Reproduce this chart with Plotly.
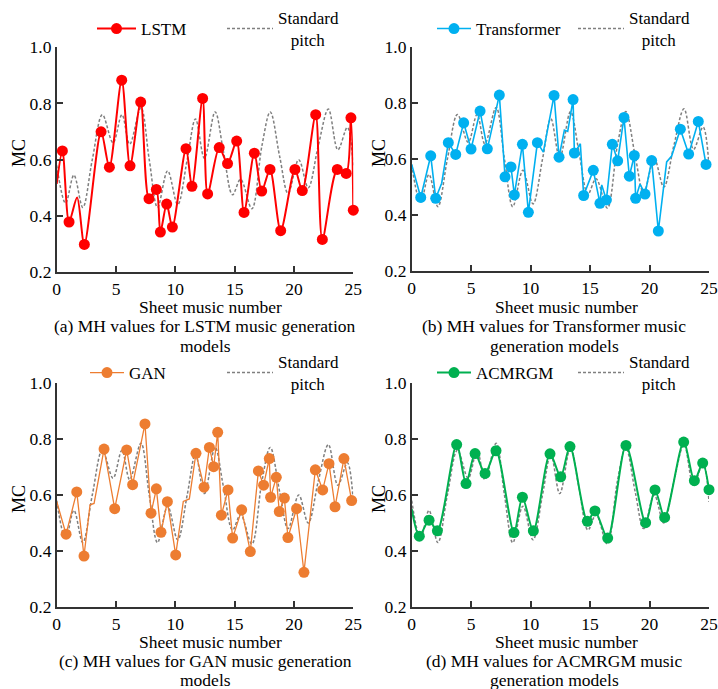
import plotly.graph_objects as go

W, H = 718, 689
FONT = "Liberation Serif, Times New Roman, serif"

# ---------------- data ----------------
x_ticks = [0, 5, 10, 15, 20, 25]
y_ticks = [0.2, 0.4, 0.6, 0.8, 1.0]

std_x = [0, 0.75, 1.45, 2.2, 3.0, 3.85, 4.75, 5.5, 6.15, 7.1, 7.8, 8.5, 9.35, 10.2, 11.0, 11.7,
         12.45, 13.35, 14.05, 14.82, 15.5, 16.45, 17.3, 18.0, 18.8, 19.5, 20.4, 21.2, 22.05,
         22.9, 23.7, 24.5, 25]
std_y = [0.58, 0.445, 0.545, 0.43, 0.60, 0.76, 0.66, 0.76, 0.655, 0.785, 0.60, 0.43, 0.56, 0.44,
         0.60, 0.745, 0.605, 0.77, 0.63, 0.475, 0.53, 0.425, 0.65, 0.77, 0.61, 0.48, 0.60, 0.50,
         0.65, 0.78, 0.635, 0.715, 0.575]

lstm_x = [0.48, 1.04, 2.33, 3.74, 4.44, 5.48, 6.18, 7.08, 7.78, 8.40, 8.74, 9.27, 9.75, 10.9,
          11.4, 12.3, 12.72, 13.7, 14.4, 15.17, 15.79, 16.66, 17.28, 17.98, 18.88, 20.08, 20.7,
          21.83, 22.39, 23.65, 24.4, 24.8, 25.0]
lstm_y = [0.631, 0.378, 0.298, 0.699, 0.573, 0.883, 0.578, 0.805, 0.461, 0.494, 0.342, 0.442,
          0.360, 0.639, 0.505, 0.818, 0.478, 0.643, 0.586, 0.666, 0.412, 0.623, 0.488, 0.565,
          0.347, 0.565, 0.490, 0.760, 0.316, 0.565, 0.551, 0.749, 0.420]
lstm_knot_x = [0, 1.72]
lstm_knot_y = [0.514, 0.465]

tr_x = [0.76, 1.60, 2.02, 3.08, 3.70, 4.37, 4.99, 5.75, 6.36, 7.37, 7.85, 8.35, 8.63, 9.31, 9.81,
        10.57, 11.97, 12.39, 13.57, 13.68, 14.46, 15.27, 15.83, 16.37, 16.87, 17.32, 17.85, 18.3,
        18.72, 18.83, 19.62, 20.18, 20.74, 22.59, 23.29, 24.1, 24.75]
tr_y = [0.463, 0.612, 0.460, 0.659, 0.617, 0.730, 0.636, 0.772, 0.637, 0.829, 0.537, 0.572,
        0.472, 0.653, 0.410, 0.659, 0.828, 0.607, 0.813, 0.622, 0.470, 0.560, 0.442, 0.454,
        0.653, 0.594, 0.749, 0.539, 0.613, 0.460, 0.475, 0.595, 0.343, 0.707, 0.618, 0.735, 0.581]
tr_knot_x = [0, 2.52, 11.07, 12.84, 13.12, 14.18, 15.98, 19.2, 21.44, 21.86]
tr_knot_y = [0.581, 0.514, 0.625, 0.704, 0.699, 0.655, 0.508, 0.511, 0.590, 0.611]

gan_x = [0.79, 1.69, 2.30, 3.99, 4.89, 5.90, 6.40, 7.44, 7.95, 8.40, 8.79, 9.33, 10.03, 11.74,
         12.42, 12.87, 13.23, 13.57, 13.88, 14.44, 14.83, 15.59, 16.32, 17.0, 17.44, 17.92, 18.03,
         18.51, 18.76, 19.19, 19.49, 20.22, 20.84, 21.8, 22.42, 22.95, 23.46, 24.21, 24.86]
gan_y = [0.460, 0.611, 0.382, 0.764, 0.551, 0.761, 0.637, 0.854, 0.535, 0.622, 0.467, 0.576,
         0.386, 0.749, 0.628, 0.770, 0.701, 0.824, 0.528, 0.618, 0.446, 0.547, 0.398, 0.686,
         0.635, 0.730, 0.592, 0.663, 0.541, 0.589, 0.448, 0.551, 0.324, 0.690, 0.618, 0.712,
         0.558, 0.730, 0.580]
gan_knot_x = [0, 2.81, 3.15, 10.67, 11.18]
gan_knot_y = [0.577, 0.565, 0.570, 0.577, 0.586]

ac_x = [0.64, 1.46, 2.16, 3.78, 4.57, 5.33, 6.17, 7.09, 8.6, 9.31, 10.23, 11.63, 12.53, 13.31,
        14.77, 15.41, 16.48, 18.02, 19.67, 20.46, 21.27, 22.87, 23.77, 24.47, 25.0]
ac_y = [0.453, 0.510, 0.472, 0.780, 0.641, 0.748, 0.677, 0.758, 0.466, 0.592, 0.472, 0.747,
        0.665, 0.773, 0.506, 0.543, 0.446, 0.777, 0.501, 0.618, 0.520, 0.789, 0.651, 0.714, 0.619]
ac_knot_x = [0]
ac_knot_y = [0.55]

models = ["LSTM", "Transformer", "GAN", "ACMRGM"]
captions = [["(a) MH values for LSTM music generation", "models"],
            ["(b) MH values for Transformer music", "generation models"],
            ["(c) MH values for GAN music generation", "models"],
            ["(d) MH values for ACMRGM music", "generation models"]]
x_title = "Sheet music number"
y_title = "MC"
std_name = "Standard<br>\u00a0\u00a0\u00a0pitch"

# ---------------- styling / layout ----------------
colors = ["#FF0000", "#00B0F0", "#ED7D31", "#00B050"]
line_shape = ["spline", "linear", "linear", "spline"]
line_w = [2.0, 1.6, 1.3, 2.0]
std_color = "#7F7F7F"


def fx(px):
    return px / W


def fy(py):
    return 1 - py / H


# panel pixel boxes: (left, right, top, bottom)
boxes = [(56.7, 353.3, 47.3, 272.0), (411.7, 709.0, 47.3, 271.0),
         (56.7, 353.3, 383.0, 607.0), (411.7, 709.0, 383.0, 607.0)]
# text rows (pixel y): x-title, caption line 1, caption line 2
text_rows = [(307, 326, 346), (642, 661, 680)]
leg_rows = [29, 373]
# legend placement: (model legend left, model itemwidth, std legend left)
leg_pos = [(92, 39, 222), (432, 34, 573), (85, 34, 222), (432, 34, 573)]

series = [(lstm_x, lstm_y, lstm_knot_x, lstm_knot_y),
          (tr_x, tr_y, tr_knot_x, tr_knot_y),
          (gan_x, gan_y, gan_knot_x, gan_knot_y),
          (ac_x, ac_y, ac_knot_x, ac_knot_y)]

fig = go.Figure()
layout = dict(width=W, height=H, margin=dict(l=0, r=0, t=0, b=0, pad=0, autoexpand=False),
              paper_bgcolor="white", plot_bgcolor="white",
              font=dict(family=FONT, size=17, color="black"),
              annotations=[])

for i in range(4):
    l, r, t, b = boxes[i]
    row = i // 2
    col = i % 2
    xa = "xaxis" if i == 0 else f"xaxis{i+1}"
    ya = "yaxis" if i == 0 else f"yaxis{i+1}"
    xr = "x" if i == 0 else f"x{i+1}"
    yr = "y" if i == 0 else f"y{i+1}"
    axcommon = dict(showgrid=False, zeroline=False, showline=True, linecolor="#333333",
                    linewidth=1.6, ticks="inside", ticklen=6, tickwidth=1.6,
                    tickcolor="#333333", tickfont=dict(family=FONT, size=17.5, color="black"))
    layout[xa] = dict(domain=[fx(l), fx(r)], range=[0, 25], tickvals=x_ticks,
                      anchor=yr, **axcommon)
    layout[ya] = dict(domain=[fy(b), fy(t)], range=[0.2, 1.0], tickvals=y_ticks,
                      tickformat=".1f", anchor=xr, **axcommon)

    mx, my, kx, ky = series[i]
    pts = sorted(list(zip(mx, my)) + list(zip(kx, ky)))
    lx = [p[0] for p in pts]
    ly = [p[1] for p in pts]

    leg_model = "legend" if i == 0 else f"legend{2*i+1}"
    leg_std = f"legend{2*i+2}"

    fig.add_trace(go.Scatter(x=std_x, y=std_y, mode="lines", name=std_name,
                             line=dict(color=std_color, width=1.5, dash="3px,2px", shape="spline",
                                       smoothing=1.0),
                             xaxis=xr, yaxis=yr, legend=leg_std, showlegend=True,
                             cliponaxis=False))
    fig.add_trace(go.Scatter(x=lx, y=ly, mode="lines",
                             line=dict(color=colors[i], width=line_w[i], shape=line_shape[i],
                                       smoothing=0.8),
                             xaxis=xr, yaxis=yr, showlegend=False, cliponaxis=False))
    fig.add_trace(go.Scatter(x=mx, y=my, mode="markers",
                             marker=dict(color=colors[i], size=11),
                             xaxis=xr, yaxis=yr, showlegend=False, cliponaxis=False))
    fig.add_trace(go.Scatter(x=[None], y=[None], mode="lines+markers", name=models[i],
                             line=dict(color=colors[i], width=line_w[i]),
                             marker=dict(color=colors[i], size=11),
                             xaxis=xr, yaxis=yr, legend=leg_model, showlegend=True))

    legy = leg_rows[row]
    mleft, mwidth, sleft = leg_pos[i]
    legcommon = dict(orientation="v", bgcolor="rgba(0,0,0,0)", borderwidth=0,
                     font=dict(family=FONT, size=17, color="black"),
                     xanchor="left", yanchor="middle", valign="middle")
    layout[leg_model] = dict(x=fx(mleft), y=fy(legy), itemwidth=mwidth, **legcommon)
    layout[leg_std] = dict(x=fx(sleft), y=fy(legy), itemwidth=46, **legcommon)

    ty, c1, c2 = text_rows[row]
    layout["annotations"].append(dict(text=x_title, x=fx(210 if col == 0 else 566.7),
                                      y=fy(ty), xref="paper", yref="paper",
                                      showarrow=False, xanchor="center", yanchor="middle",
                                      font=dict(family=FONT, size=17.5)))
    for line_text, cy in zip(captions[i], (c1, c2)):
        layout["annotations"].append(dict(text=line_text, x=fx(205 if col == 0 else 554),
                                          y=fy(cy), xref="paper", yref="paper",
                                          showarrow=False, xanchor="center", yanchor="middle",
                                          font=dict(family=FONT, size=17.5)))
    layout["annotations"].append(dict(text=y_title, x=fx(19 if col == 0 else 379),
                                      y=fy(153 if row == 0 else 499), xref="paper",
                                      yref="paper", showarrow=False, textangle=-90,
                                      xanchor="center", yanchor="middle",
                                      font=dict(family=FONT, size=18)))

fig.update_layout(**layout)
fig.write_html("out.html", config={"displayModeBar": False},
               post_script="document.body.style.margin='0';")
